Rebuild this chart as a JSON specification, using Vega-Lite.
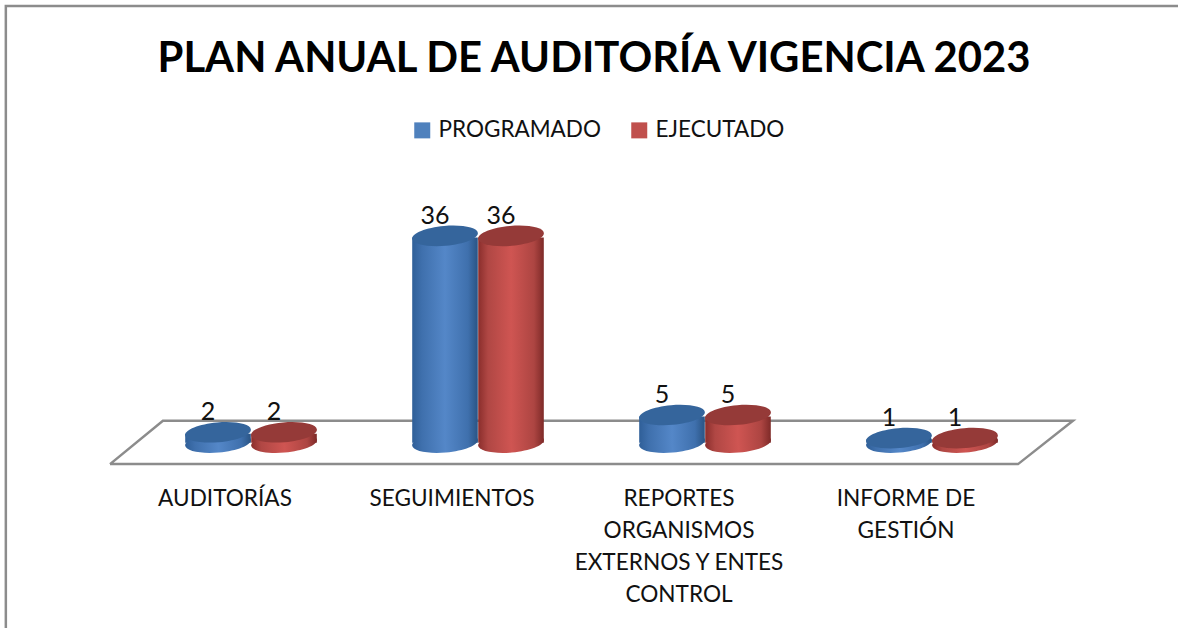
{
"$schema":"https://vega.github.io/schema/vega-lite/v6.json",
"width":908,"height":312,
"autosize":{"type":"none"},
"padding":{"left":137.5,"top":155,"right":132.5,"bottom":161},
"background":"white",
"config":{"view":{"stroke":null}},
"title":{"text":"PLAN ANUAL DE AUDITORÍA VIGENCIA 2023","font":"Lato","fontSize":41.8,"fontWeight":"bold","color":"#000000","anchor":"middle","frame":"group","dx":2.5,"offset":-80},
"datasets":{
"bars":[
{"cat":"AUDITORÍAS","serie":"PROGRAMADO","v":2},
{"cat":"AUDITORÍAS","serie":"EJECUTADO","v":2},
{"cat":"SEGUIMIENTOS","serie":"PROGRAMADO","v":36},
{"cat":"SEGUIMIENTOS","serie":"EJECUTADO","v":36},
{"cat":"REPORTES ORGANISMOS EXTERNOS Y ENTES CONTROL","serie":"PROGRAMADO","v":5},
{"cat":"REPORTES ORGANISMOS EXTERNOS Y ENTES CONTROL","serie":"EJECUTADO","v":5},
{"cat":"INFORME DE GESTIÓN","serie":"PROGRAMADO","v":1},
{"cat":"INFORME DE GESTIÓN","serie":"EJECUTADO","v":1}
],
"outline":[
{"part":"frame","o":1,"px":-0.58,"py":-32},
{"part":"frame","o":2,"px":-0.58,"py":75.8},
{"part":"frame","o":3,"px":4.6,"py":75.8},
{"part":"floor","o":1,"px":-0.121,"py":-3.5},
{"part":"floor","o":2,"px":3.879,"py":-3.5},
{"part":"floor","o":3,"px":4.121,"py":4},
{"part":"floor","o":4,"px":0.112,"py":4},
{"part":"floor","o":5,"px":-0.121,"py":-3.5}
]
},
"resolve":{"scale":{"x":"independent"}},
"layer":[
{"data":{"name":"outline"},
 "mark":{"type":"line","clip":false,"strokeWidth":2.5,"color":"#8c8c8c"},
 "encoding":{
  "x":{"field":"px","type":"quantitative","scale":{"domain":[0,4],"zero":false,"nice":false},"axis":null},
  "y":{"field":"py","type":"quantitative","scale":{"domain":[-4,50],"nice":false,"zero":false},"axis":null},
  "detail":{"field":"part"},
  "order":{"field":"o"}
 }},
{"data":{"name":"bars"},
 "encoding":{
  "x":{"field":"cat","type":"nominal","sort":null,"scale":{"paddingInner":0.4185,"paddingOuter":0.2093},
   "axis":{"title":null,"domain":false,"ticks":false,"labelAngle":0,"labelOffset":-26,"labelPadding":31,"labelFont":"Lato","labelFontSize":22.6,"labelColor":"#111111","labelLimit":0,"labelBaseline":"middle","labelLineHeight":32.3,
    "labelExpr":"datum.label == 'REPORTES ORGANISMOS EXTERNOS Y ENTES CONTROL' ? ['REPORTES','ORGANISMOS','EXTERNOS Y ENTES','CONTROL'] : datum.label == 'INFORME DE GESTIÓN' ? ['INFORME DE','GESTIÓN'] : datum.label"}},
  "xOffset":{"field":"serie","type":"nominal","sort":["PROGRAMADO","EJECUTADO"]},
  "y":{"field":"v","type":"quantitative","scale":{"domain":[-4,50],"nice":false,"zero":false},"axis":null}
 },
 "layer":[
  {"transform":[{"filter":"datum.serie=='PROGRAMADO'"}],
   "mark":{"type":"point","shape":"M-1,0A1,0.3,0,1,0,1,0A1,0.3,0,1,0,-1,0Z","size":4356,"filled":true,"opacity":1,"angle":-5,
    "fill":{"gradient":"linear","x1":0,"x2":1,"y1":0,"y2":0,"stops":[{"offset":0,"color":"#2f5f98"},{"offset":0.15,"color":"#3f70ad"},{"offset":0.5,"color":"#5487c8"},{"offset":0.85,"color":"#3f70ad"},{"offset":1,"color":"#2a5484"}]}},
   "encoding":{"y":{"datum":0.2}}},
  {"transform":[{"filter":"datum.serie=='PROGRAMADO'"}],
   "mark":{"type":"bar","size":65.6,"yOffset":1.5,
    "fill":{"gradient":"linear","x1":0,"x2":1,"y1":0,"y2":0,"stops":[{"offset":0,"color":"#2f5f98"},{"offset":0.15,"color":"#3f70ad"},{"offset":0.5,"color":"#5487c8"},{"offset":0.85,"color":"#3f70ad"},{"offset":1,"color":"#2a5484"}]}},
   "encoding":{"y2":{"datum":0.2}}},
  {"transform":[{"filter":"datum.serie=='PROGRAMADO'"}],
   "mark":{"type":"point","shape":"M-1,0A1,0.3,0,1,0,1,0A1,0.3,0,1,0,-1,0Z","size":4356,"filled":true,"opacity":1,"angle":-5,"fill":"#35659c"}},
  {"transform":[{"filter":"datum.serie=='EJECUTADO'"}],
   "mark":{"type":"point","shape":"M-1,0A1,0.3,0,1,0,1,0A1,0.3,0,1,0,-1,0Z","size":4356,"filled":true,"opacity":1,"angle":-5,
    "fill":{"gradient":"linear","x1":0,"x2":1,"y1":0,"y2":0,"stops":[{"offset":0,"color":"#8a2e2c"},{"offset":0.15,"color":"#b04744"},{"offset":0.5,"color":"#cf5552"},{"offset":0.85,"color":"#ad4542"},{"offset":1,"color":"#7e2a28"}]}},
   "encoding":{"y":{"datum":0.2}}},
  {"transform":[{"filter":"datum.serie=='EJECUTADO'"}],
   "mark":{"type":"bar","size":65.6,"yOffset":1.5,
    "fill":{"gradient":"linear","x1":0,"x2":1,"y1":0,"y2":0,"stops":[{"offset":0,"color":"#8a2e2c"},{"offset":0.15,"color":"#b04744"},{"offset":0.5,"color":"#cf5552"},{"offset":0.85,"color":"#ad4542"},{"offset":1,"color":"#7e2a28"}]}},
   "encoding":{"y2":{"datum":0.2}}},
  {"transform":[{"filter":"datum.serie=='EJECUTADO'"}],
   "mark":{"type":"point","shape":"M-1,0A1,0.3,0,1,0,1,0A1,0.3,0,1,0,-1,0Z","size":4356,"filled":true,"opacity":1,"angle":-5,"fill":"#953a38"}},
  {"mark":{"type":"text","dx":-10,"dy":-20,"font":"Lato","fontSize":25,"color":"#111111"},
   "encoding":{"text":{"field":"v","type":"quantitative"}}},
  {"mark":{"type":"point","shape":"square","filled":true,"size":1,"opacity":0},
   "encoding":{"color":{"field":"serie","type":"nominal","sort":["PROGRAMADO","EJECUTADO"],"scale":{"domain":["PROGRAMADO","EJECUTADO"],"range":["#4f81bd","#c0504d"]},
     "legend":{"orient":"none","legendX":273.5,"legendY":-36,"direction":"horizontal","title":null,"symbolType":"square","symbolSize":256,"symbolOpacity":1,"labelFont":"Lato","labelFontSize":22.5,"labelColor":"#111111","columnPadding":27,"labelOffset":5,"labelLimit":300}}}}
 ]}
]
}
